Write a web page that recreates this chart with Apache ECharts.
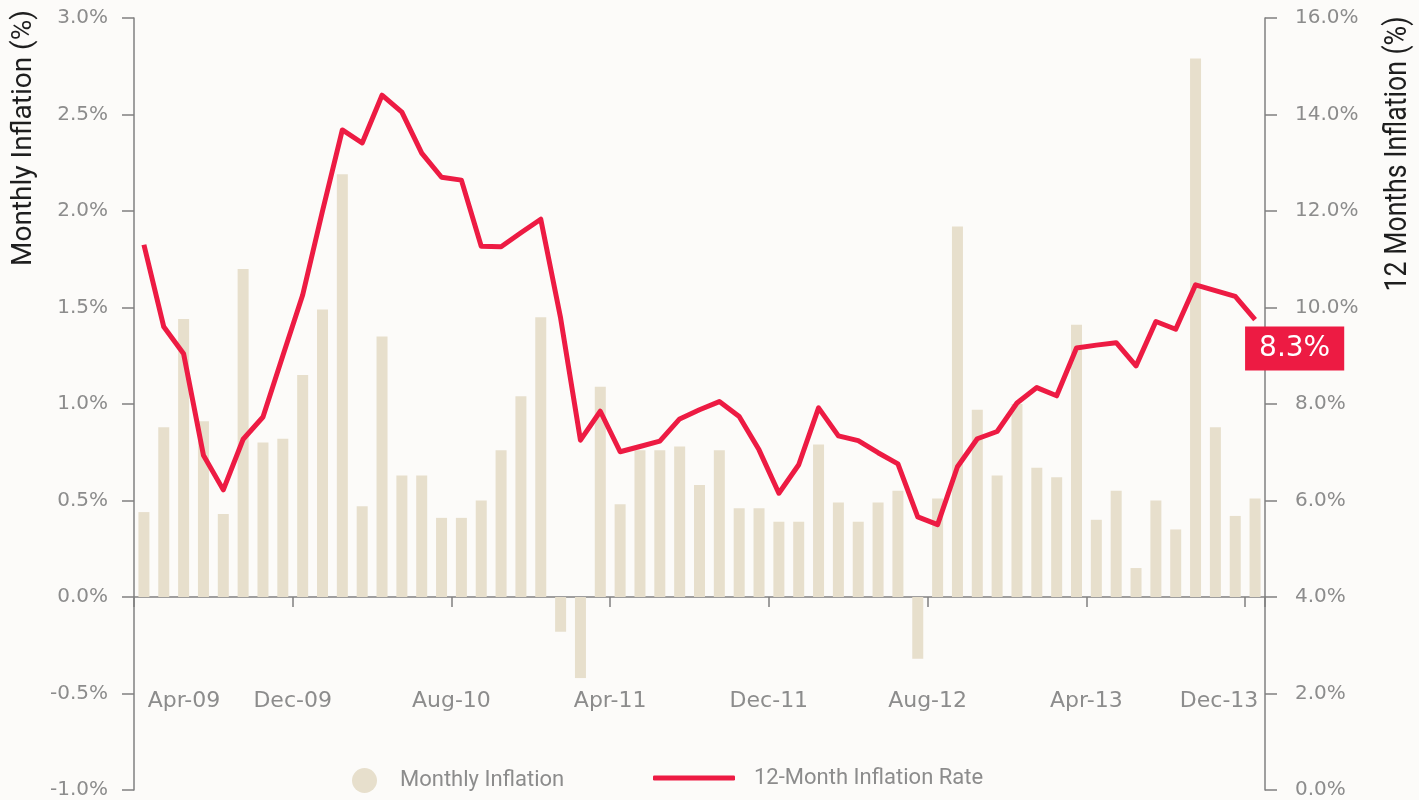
<!DOCTYPE html>
<html>
<head>
<meta charset="utf-8">
<title>Monthly and 12-Month Inflation</title>
<script src="https://cdn.jsdelivr.net/npm/echarts@6/dist/echarts.min.js"></script>
<style>
html, body { margin: 0; padding: 0; background: #fcfbf9; }
#InflationChart { width: 1419px; height: 800px; }
</style>
</head>
<body>
<div id="InflationChart"></div>
<script>
// months, Apr-09 .. Dec-13
var Months = [
    'Apr-09','May-09','Jun-09','Jul-09','Aug-09','Sep-09','Oct-09','Nov-09','Dec-09',
    'Jan-10','Feb-10','Mar-10','Apr-10','May-10','Jun-10','Jul-10','Aug-10','Sep-10','Oct-10','Nov-10','Dec-10',
    'Jan-11','Feb-11','Mar-11','Apr-11','May-11','Jun-11','Jul-11','Aug-11','Sep-11','Oct-11','Nov-11','Dec-11',
    'Jan-12','Feb-12','Mar-12','Apr-12','May-12','Jun-12','Jul-12','Aug-12','Sep-12','Oct-12','Nov-12','Dec-12',
    'Jan-13','Feb-13','Mar-13','Apr-13','May-13','Jun-13','Jul-13','Aug-13','Sep-13','Oct-13','Nov-13','Dec-13'
];

// monthly inflation (%), left axis
var MonthlyInflation = [
    0.44, 0.88, 1.44, 0.91, 0.43, 1.70, 0.80, 0.82, 1.15,
    1.49, 2.19, 0.47, 1.35, 0.63, 0.63, 0.41, 0.41, 0.50, 0.76, 1.04, 1.45,
    -0.18, -0.42, 1.09, 0.48, 0.76, 0.76, 0.78, 0.58, 0.76, 0.46, 0.46, 0.39,
    0.39, 0.79, 0.49, 0.39, 0.49, 0.55, -0.32, 0.51, 1.92, 0.97, 0.63, 1.00,
    0.67, 0.62, 1.41, 0.40, 0.55, 0.15, 0.50, 0.35, 2.79, 0.88, 0.42, 0.51
];

// 12-month inflation rate (%), right axis
var YearlyInflation = [
    11.30, 9.60, 9.04, 6.94, 6.22, 7.27, 7.73, 9.00, 10.26,
    12.00, 13.68, 13.41, 14.40, 14.05, 13.20, 12.70, 12.64, 11.27, 11.26, 11.55, 11.83,
    9.78, 7.25, 7.85, 7.01, 7.12, 7.23, 7.69, 7.88, 8.05, 7.74, 7.05, 6.15,
    6.74, 7.92, 7.34, 7.24, 6.99, 6.76, 5.66, 5.50, 6.70, 7.28, 7.43, 8.02,
    8.34, 8.17, 9.16, 9.22, 9.27, 8.79, 9.71, 9.55, 10.47, 10.35, 10.23, 9.75
];

var LatestLabel = '8.3%';

var GREY = '#8c8c8c';
var AXIS = '#808080';
var BEIGE = '#e7dfcc';
var RED = '#ed1b43';

var Chart = echarts.init(document.getElementById('InflationChart'));

var tickFont = { fontFamily: 'DejaVu Sans', fontSize: 22, color: GREY };

Chart.setOption({
    backgroundColor: '#fcfbf9',
    animation: false,
    grid: { left: 134, right: 154, top: 18, bottom: 10, containLabel: false, outerBoundsMode: 'none' },

    legend: [
        {
            data: [{ name: 'Monthly Inflation', icon: 'circle' }],
            left: 347, top: 763,
            itemWidth: 25, itemHeight: 25,
            selectedMode: false,
            textStyle: { fontFamily: 'Roboto', fontSize: 22, color: GREY, padding: [0, 0, 0, 18] }
        },
        {
            data: [{ name: '12-Month Inflation Rate', icon: 'roundRect' }],
            left: 648, top: 762,
            itemWidth: 82, itemHeight: 5,
            selectedMode: false,
            textStyle: { fontFamily: 'Roboto', fontSize: 22, color: GREY, padding: [0, 0, 0, 14] }
        }
    ],

    xAxis: {
        type: 'category',
        data: Months,
        boundaryGap: true,
        axisLine: { onZero: true, onZeroAxisIndex: 0, lineStyle: { color: AXIS, width: 1.5 } },
        axisTick: { show: true, interval: 7, length: 10, lineStyle: { color: AXIS, width: 1.5 } },
        axisLabel: {
            interval: 7,
            // labels sit at the grid bottom in v6, pull them up
            margin: -100,
            formatter: function (v, i) {
                if (i === 0) return '{first|' + v + '}';
                if (i === Months.length - 1) return '{last|' + v + '}';
                return '{rest|' + v + '}';
            },
            rich: {
                first: Object.assign({ padding: [0, 0, 0, 80] }, tickFont),
                rest: Object.assign({ padding: [0, 20, 0, 0] }, tickFont),
                last: Object.assign({ padding: [0, 72, 0, 0] }, tickFont)
            }
        },
        splitLine: { show: false }
    },

    yAxis: [
        {
            type: 'value',
            min: -1, max: 3, interval: 0.5,
            axisLine: { show: true, lineStyle: { color: AXIS, width: 1.5 } },
            axisTick: { show: true, length: 12, lineStyle: { color: AXIS, width: 1.5 } },
            axisLabel: {
                margin: 26,
                fontFamily: 'DejaVu Sans', fontSize: 20, color: GREY,
                formatter: function (v) { return v.toFixed(1) + '%'; }
            },
            splitLine: { show: false }
        },
        {
            type: 'value',
            min: 0, max: 16, interval: 2,
            axisLine: { show: true, lineStyle: { color: AXIS, width: 1.5 } },
            axisTick: { show: true, length: 12, lineStyle: { color: AXIS, width: 1.5 } },
            axisLabel: {
                margin: 30,
                fontFamily: 'DejaVu Sans', fontSize: 20, color: GREY,
                formatter: function (v) { return v.toFixed(1) + '%'; }
            },
            splitLine: { show: false }
        }
    ],

    // axis titles
    graphic: [
        {
            type: 'text', x: 24, y: 138, rotation: Math.PI / 2,
            style: {
                text: 'Monthly Inflation (%)',
                fontFamily: 'Roboto', fontSize: 28, fill: '#1e1e1e',
                align: 'center', verticalAlign: 'middle'
            }
        },
        {
            type: 'text', x: 1398, y: 154, rotation: Math.PI / 2, scaleX: 0.86,
            style: {
                text: '12 Months Inflation (%)',
                fontFamily: 'Roboto', fontSize: 31, fill: '#1e1e1e',
                align: 'center', verticalAlign: 'middle'
            }
        }
    ],

    series: [
        {
            name: 'Monthly Inflation',
            type: 'bar',
            yAxisIndex: 0,
            data: MonthlyInflation,
            barWidth: 11,
            itemStyle: { color: BEIGE }
        },
        {
            name: '12-Month Inflation Rate',
            type: 'line',
            yAxisIndex: 1,
            data: YearlyInflation,
            showSymbol: false,
            symbol: 'none',
            lineStyle: { color: RED, width: 5, join: 'round' },
            itemStyle: { color: RED },
            endLabel: {
                show: true,
                formatter: function () { return LatestLabel; },
                distance: 0,
                offset: [-10, 29],
                fontFamily: 'DejaVu Sans', fontSize: 28, color: '#ffffff',
                backgroundColor: RED,
                lineHeight: 32,
                padding: [6, 14, 6, 14]
            },
            z: 3
        }
    ]
});
</script>
</body>
</html>
